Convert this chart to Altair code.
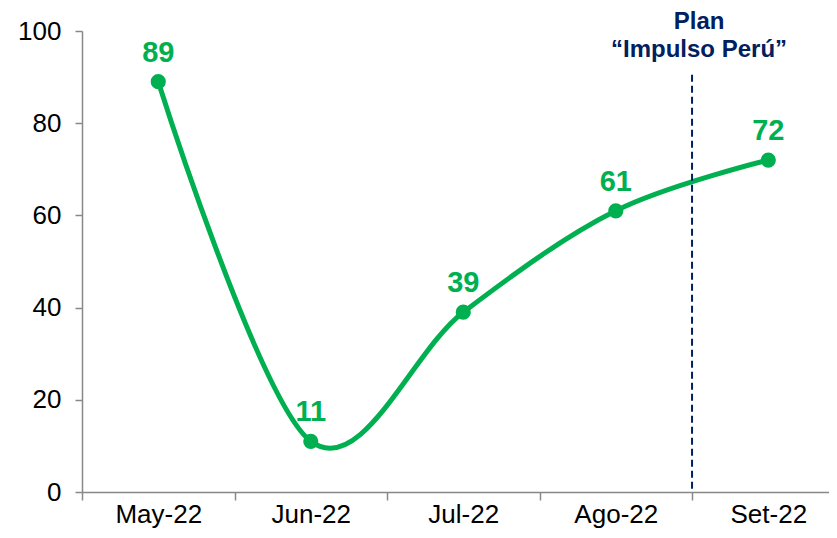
import altair as alt
import pandas as pd

months = ["May-22", "Jun-22", "Jul-22", "Ago-22", "Set-22"]
values = [89, 11, 39, 61, 72]
y_ticks = [0, 20, 40, 60, 80, 100]

plan_text = ["Plan", "“Impulso Perú”"]
plan_top = [90.5]

GREEN = "#00B050"
NAVY = "#002060"
FONT = "Liberation Sans"

idx = list(range(len(months)))
df = pd.DataFrame({"i": idx, "month": months, "value": values})
# boundary between Ago-22 and Set-22
df_plan = pd.DataFrame({"i": [len(months) - 1.5], "top": plan_top, "bottom": [0]})

# category positions plus band boundaries (for ticks)
x_vals = [k / 2 for k in range(-1, 2 * len(months))]
month_js = "[" + ",".join("'" + m + "'" for m in months) + "]"

xscale = alt.Scale(domain=[-0.5, 4.398], nice=False, zero=False)
yscale = alt.Scale(domain=[0, 100], nice=False)

x_enc = alt.X(
    "i:Q", scale=xscale,
    axis=alt.Axis(
        title=None, values=x_vals,
        labelExpr=f"datum.value % 1 === 0 ? {month_js}[datum.value] : ''",
        labelAngle=0, labelFontSize=26, labelFont=FONT, labelColor="#000000",
        domainColor="#888888", domainWidth=1.5, tickColor="#888888",
        tickWidth=1.5, tickSize=8, labelPadding=1, grid=False, labelFlush=False,
        labelOverlap=False,
        tickOpacity={"condition": {"test": "datum.value % 1 !== 0", "value": 1}, "value": 0},
    ),
)
y_enc = alt.Y(
    "value:Q", scale=yscale,
    axis=alt.Axis(
        title=None, values=y_ticks, labelFontSize=26, labelFont=FONT, labelColor="#000000",
        domainColor="#888888", domainWidth=1.5, tickColor="#888888", tickWidth=1.5,
        tickSize=7, labelPadding=14, grid=False, labelFlush=False,
    ),
)

base = alt.Chart(df)

line = base.mark_line(color=GREEN, strokeWidth=5, interpolate="cardinal").encode(x=x_enc, y=y_enc)
points = base.mark_circle(color=GREEN, size=230, opacity=1).encode(x=x_enc, y=y_enc)
labels = base.mark_text(
    color=GREEN, fontSize=29, fontWeight="bold", font=FONT, baseline="middle", dy=-29
).encode(x=x_enc, y=y_enc, text=alt.Text("value:Q"))

rule = alt.Chart(df_plan).mark_rule(color=NAVY, strokeWidth=2, strokeDash=[7, 4]).encode(
    x=alt.X("i:Q", scale=xscale),
    y=alt.Y("top:Q", scale=yscale),
    y2="bottom:Q",
)

plan = alt.Chart(df_plan).mark_text(
    color=NAVY, fontSize=24, fontWeight="bold", font=FONT, align="center",
    baseline="alphabetic", lineHeight=28, dx=7,
).encode(
    x=alt.X("i:Q", scale=xscale),
    y=alt.value(-2),
    text=alt.value(plan_text),
)

chart = alt.layer(line, points, labels, rule, plan).properties(
    width=747, height=461,
    autosize=alt.AutoSizeParams(type="none"),
    padding={"left": 74, "top": 23, "right": 0, "bottom": 38},
).configure_view(stroke=None)

chart.save("out.html", embed_options={"renderer": "svg", "actions": False})
